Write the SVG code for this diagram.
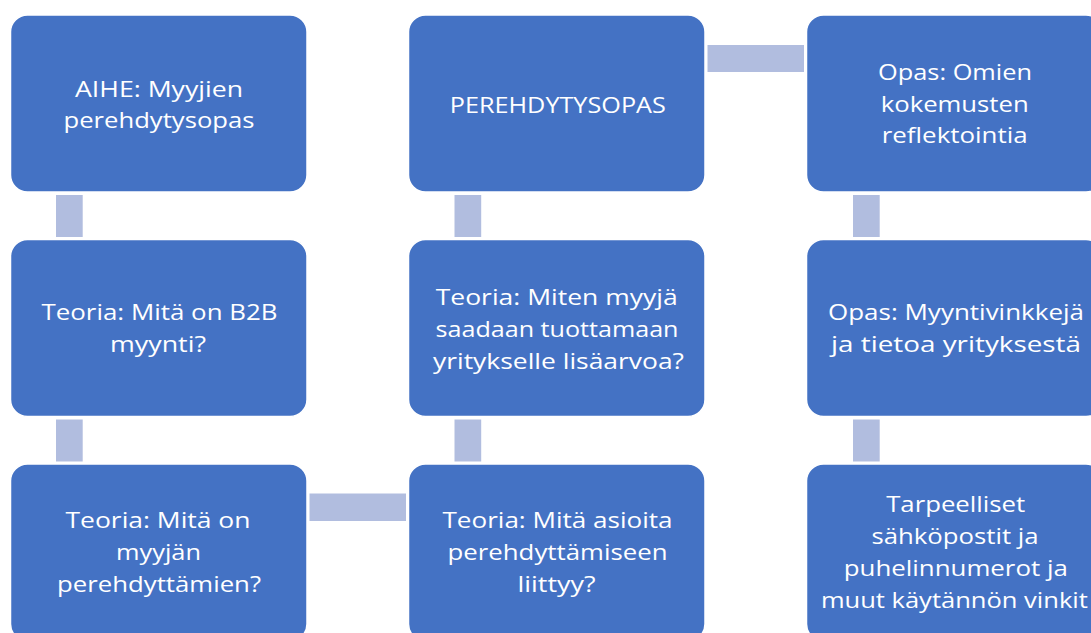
<svg xmlns="http://www.w3.org/2000/svg" width="1091" height="633" viewBox="0 0 1091 633">
<style>
.box{fill:#4472C4;stroke:#FFFFFF;stroke-width:1.5}
.conn{fill:#B1BDDF}
.t{font-family:"Open Sans","Noto Sans","Liberation Sans",sans-serif;font-size:22px;fill:#FFFFFF;text-anchor:middle}
</style>
<rect width="1091" height="633" fill="#FFFFFF"/>
<g id="connectors">
<rect class="conn" x="56" y="195" width="26.7" height="42"/>
<rect class="conn" x="56" y="419.5" width="26.7" height="42"/>
<rect class="conn" x="309.5" y="493.5" width="96.5" height="27.5"/>
<rect class="conn" x="454.5" y="419.5" width="26.7" height="42"/>
<rect class="conn" x="454.5" y="195" width="26.7" height="42"/>
<rect class="conn" x="707.5" y="45" width="96.5" height="27"/>
<rect class="conn" x="853" y="195" width="26.7" height="42"/>
<rect class="conn" x="853" y="419.5" width="26.7" height="42"/>
</g>
<g id="n1">
<rect class="box" x="10.5" y="15" width="296.5" height="177" rx="17"/>
<text class="t" x="159" y="96.5" textLength="168" lengthAdjust="spacingAndGlyphs">AIHE: Myyjien</text>
<text class="t" x="159" y="128" textLength="191" lengthAdjust="spacingAndGlyphs">perehdytysopas</text>
</g>
<g id="n2">
<rect class="box" x="10.5" y="239.5" width="296.5" height="177" rx="17"/>
<text class="t" x="159.5" y="319.5" textLength="236" lengthAdjust="spacingAndGlyphs">Teoria: Mitä on B2B</text>
<text class="t" x="158" y="351.5" textLength="96" lengthAdjust="spacingAndGlyphs">myynti?</text>
</g>
<g id="n3">
<rect class="box" x="10.5" y="464" width="296.5" height="177" rx="17"/>
<text class="t" x="158" y="528.3" textLength="185" lengthAdjust="spacingAndGlyphs">Teoria: Mitä on</text>
<text class="t" x="158.5" y="560" textLength="85" lengthAdjust="spacingAndGlyphs">myyjän</text>
<text class="t" x="159" y="591.7" textLength="204" lengthAdjust="spacingAndGlyphs">perehdyttämien?</text>
</g>
<g id="n4">
<rect class="box" x="408.5" y="464" width="296.5" height="177" rx="17"/>
<text class="t" x="557.5" y="528.3" textLength="230" lengthAdjust="spacingAndGlyphs">Teoria: Mitä asioita</text>
<text class="t" x="557.5" y="560" textLength="220" lengthAdjust="spacingAndGlyphs">perehdyttämiseen</text>
<text class="t" x="556.5" y="591.7" textLength="78" lengthAdjust="spacingAndGlyphs">liittyy?</text>
</g>
<g id="n5">
<rect class="box" x="408.5" y="239.5" width="296.5" height="177" rx="17"/>
<text class="t" x="556.7" y="305" textLength="242" lengthAdjust="spacingAndGlyphs">Teoria: Miten myyjä</text>
<text class="t" x="557" y="337.3" textLength="243" lengthAdjust="spacingAndGlyphs">saadaan tuottamaan</text>
<text class="t" x="558.5" y="368.5" textLength="251" lengthAdjust="spacingAndGlyphs">yritykselle lisäarvoa?</text>
</g>
<g id="n6">
<rect class="box" x="408.5" y="15" width="296.5" height="177" rx="17"/>
<text class="t" x="557.8" y="112.7" textLength="216" lengthAdjust="spacingAndGlyphs">PEREHDYTYSOPAS</text>
</g>
<g id="n7">
<rect class="box" x="806.5" y="15" width="296.5" height="177" rx="17"/>
<text class="t" x="955" y="80" textLength="154" lengthAdjust="spacingAndGlyphs">Opas: Omien</text>
<text class="t" x="954.7" y="111.7" textLength="148" lengthAdjust="spacingAndGlyphs">kokemusten</text>
<text class="t" x="954.7" y="143.3" textLength="146" lengthAdjust="spacingAndGlyphs">reflektointia</text>
</g>
<g id="n8">
<rect class="box" x="806.5" y="239.5" width="296.5" height="177" rx="17"/>
<text class="t" x="956" y="320" textLength="256" lengthAdjust="spacingAndGlyphs">Opas: Myyntivinkkejä</text>
<text class="t" x="956" y="352" textLength="250" lengthAdjust="spacingAndGlyphs">ja tietoa yrityksestä</text>
</g>
<g id="n9">
<rect class="box" x="806.5" y="464" width="296.5" height="177" rx="17"/>
<text class="t" x="955.7" y="511.7" textLength="139" lengthAdjust="spacingAndGlyphs">Tarpeelliset</text>
<text class="t" x="955" y="544" textLength="167" lengthAdjust="spacingAndGlyphs">sähköpostit ja</text>
<text class="t" x="955.8" y="576" textLength="224" lengthAdjust="spacingAndGlyphs">puhelinnumerot ja</text>
<text class="t" x="954.4" y="608" textLength="267" lengthAdjust="spacingAndGlyphs">muut käytännön vinkit</text>
</g>
</svg>
